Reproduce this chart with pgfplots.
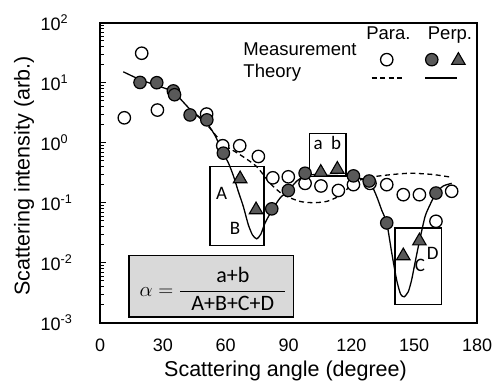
\documentclass[border=0pt]{standalone}
\usepackage{fontspec}
\setmainfont{Liberation Sans}
\newfontfamily\calib{Carlito}
\usepackage{pgfplots}
\pgfplotsset{compat=1.18}
\definecolor{mgray}{HTML}{595959}
\definecolor{bgray}{HTML}{D9D9D9}
\begin{document}
\begin{tikzpicture}
\begin{axis}[
  scale only axis, width=377pt, height=300pt,
  xmin=0, xmax=180, ymode=log, ymin=1e-3, ymax=1e2,
  xtick={0,30,60,90,120,150,180},
  xticklabels={0,30,60,90,120,150,180},
  xtick style={draw=none},
  ytick={1e-3,1e-2,1e-1,1,10,100},
  yticklabels={10\textsuperscript{-3},10\textsuperscript{-2},10\textsuperscript{-1},10\textsuperscript{0},10\textsuperscript{1},10\textsuperscript{2}},
  ytick pos=left, tick align=inside,
  major tick length=6pt, minor tick length=4pt,
  tick style={line width=0.9pt, black},
  axis line style={line width=1.6pt},
  ticklabel style={font=\fontsize{18}{20}\selectfont},
  xticklabel style={yshift=-13pt},
  yticklabel style={anchor=west, xshift=-63pt},
  xlabel={Scattering angle (degree)},
  ylabel={Scattering intensity (arb.)},
  label style={font=\fontsize{21.5}{24}\selectfont},
  x label style={at={(axis description cs:0.492,-0.161)}, anchor=center},
  y label style={at={(axis description cs:-0.2016,0.489)}, anchor=center, rotate=0},
  clip=false,
]
\coordinate (bl) at (rel axis cs:-0.2653,-0.2043);
\coordinate (tr) at (rel axis cs:1.0424,1.0757);

% formula box
\draw[line width=1.3pt, fill=bgray] (axis cs:13.8,0.0131) rectangle (axis cs:92.3,0.001245);
\node[font=\fontsize{22}{24}\selectfont, inner sep=0pt] at (axis cs:53.96,0.00369)
  {$\displaystyle \alpha = \frac{\mbox{\calib a+b}}{\mbox{\hspace{11pt}\calib A+B+C+D\hspace{11pt}}}$};

% boxes
\draw[line width=1.3pt] (axis cs:52.5,0.40) rectangle (axis cs:78.3,0.0192);
\draw[line width=1.3pt] (axis cs:99.9,1.41) rectangle (axis cs:117.5,0.275);
\draw[line width=1.3pt] (axis cs:140.9,0.038) rectangle (axis cs:163.2,0.002);

% theory perp (solid)
\addplot[black, line width=1.3pt, smooth, tension=0.4] coordinates {
(11.1,15.2) (19,11.3) (27,9.0) (35,7.0) (43,3.6) (51,2.1) (55,1.3) (58.5,0.70)
(61.3,0.46) (63.7,0.28) (66,0.155) (68.4,0.087) (70.8,0.043) (72.8,0.029) (74.8,0.025)
(76.8,0.03) (78.8,0.046) (82.4,0.078) (86,0.12) (89.9,0.16) (94,0.23) (97.9,0.28)
(103,0.295) (110,0.285) (117,0.28) (121,0.27) (125,0.25) (128.9,0.22) (132.1,0.127)
(134.5,0.075) (136.9,0.046) (139.3,0.0145) (141.6,0.0052) (143.5,0.003) (145.2,0.0027)
(147.2,0.0033) (148.8,0.0052) (150.4,0.01) (152.5,0.0227) (155.2,0.059) (157.6,0.093)
(160.4,0.145) (163.9,0.19) (167.9,0.21)
};
% theory para (dashed)
\addplot[black, line width=1.3pt, dash pattern=on 5pt off 3.5pt, smooth, tension=0.4] coordinates {
(43,3.6) (51,2.0) (58.9,0.95) (66.9,0.63) (74.8,0.40) (81.2,0.21) (87.5,0.136)
(95.5,0.105) (101.9,0.10) (108.2,0.105) (113.8,0.127) (117.8,0.166) (120.5,0.21)
(127.3,0.26) (137.5,0.29) (148,0.31) (159,0.295) (167.9,0.265)
};

% measurement para (open circles)
\addplot[only marks, mark=*, mark size=6.2pt, mark options={fill=white, draw=black, line width=1.3pt}] coordinates {
(11.6,2.6) (19.9,31) (27.4,3.5) (50.9,3.0) (58.6,0.89) (66.7,0.89) (75.6,0.59)
(82.5,0.26) (89.9,0.27) (97.9,0.21) (105.5,0.19) (113.8,0.16) (121,0.2) (128.9,0.21)
(136.9,0.2) (144.8,0.136) (152.5,0.136) (160.4,0.049) (167.9,0.155)
};
% measurement perp (filled circles)
\addplot[only marks, mark=*, mark size=6.2pt, mark options={fill=mgray, draw=black, line width=1.2pt}] coordinates {
(19.1,10.1) (27.1,10) (35,7.3) (35.6,6.3) (43,2.9) (51,2.4) (58.9,0.67) (82,0.079)
(89.9,0.16) (97.9,0.31) (121,0.28) (128.5,0.23) (136.9,0.046) (160.4,0.145)
};
% measurement perp (triangles)
\addplot[only marks, mark=triangle*, mark size=7.8pt, mark options={fill=mgray, draw=black, line width=1.1pt}] coordinates {
(66.9,0.25) (74.5,0.076) (105.4,0.32) (113.3,0.36) (144.8,0.013) (152.5,0.023)
};

% box labels
\node[font=\calib\fontsize{19}{21}\selectfont, anchor=base] at (axis cs:58.1,0.112) {A};
\node[font=\calib\fontsize{19}{21}\selectfont, anchor=base] at (axis cs:64.5,0.0293) {B};
\node[font=\calib\fontsize{19}{21}\selectfont, anchor=base] at (axis cs:104.1,0.764) {a};
\node[font=\calib\fontsize{19}{21}\selectfont, anchor=base] at (axis cs:112.7,0.764) {b};
\node[font=\calib\fontsize{19}{21}\selectfont, anchor=base] at (axis cs:152.8,0.00716) {C};
\node[font=\calib\fontsize{19}{21}\selectfont, anchor=base] at (axis cs:158.8,0.0115) {D};

% legend
\node[font=\fontsize{18.5}{20}\selectfont, anchor=base west, inner sep=0pt] at (axis cs:68.4,28.2) {Measurement};
\node[font=\fontsize{18.5}{20}\selectfont, anchor=base west, inner sep=0pt] at (axis cs:68.4,12.3) {Theory};
\node[font=\fontsize{18.5}{20}\selectfont, anchor=base, inner sep=0pt] at (axis cs:137.7,52) {Para.};
\node[font=\fontsize{18.5}{20}\selectfont, anchor=base, inner sep=0pt] at (axis cs:167.1,52) {Perp.};
\addplot[forget plot, only marks, mark=*, mark size=6.2pt, mark options={fill=white, draw=black, line width=1.3pt}] coordinates {(136.9,24.2)};
\addplot[forget plot, only marks, mark=*, mark size=6.2pt, mark options={fill=mgray, draw=black, line width=1.2pt}] coordinates {(158.4,24.2)};
\addplot[forget plot, only marks, mark=triangle*, mark size=7.8pt, mark options={fill=mgray, draw=black, line width=1.1pt}] coordinates {(171.1,23.5)};
\addplot[forget plot, black, line width=1.3pt, dash pattern=on 5pt off 3.5pt] coordinates {(129.7,12) (145.2,12)};
\addplot[forget plot, black, line width=1.3pt] coordinates {(155.2,12) (170.3,12)};
\end{axis}
\pgfresetboundingbox
\path[use as bounding box] (bl) rectangle (tr);
\end{tikzpicture}
\end{document}
